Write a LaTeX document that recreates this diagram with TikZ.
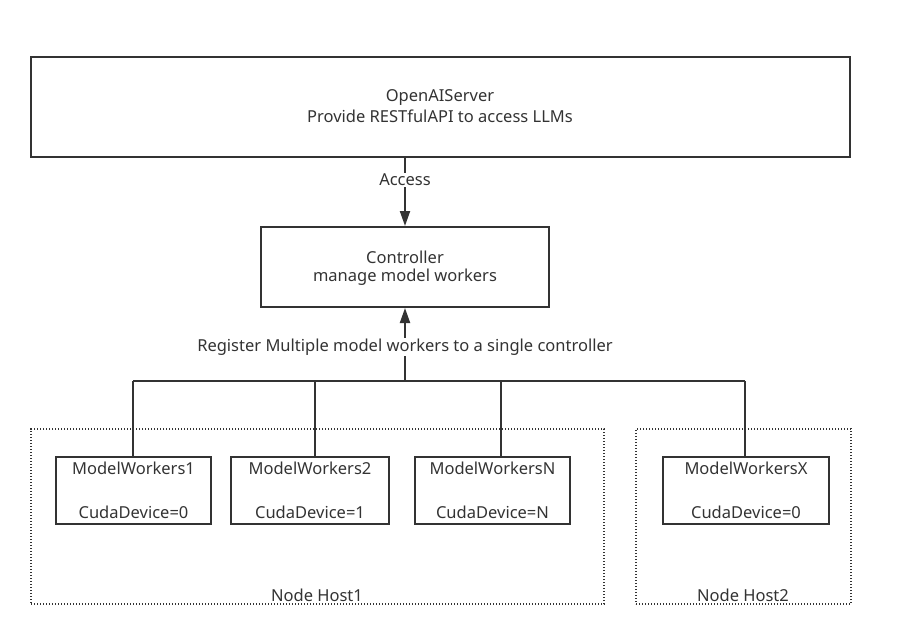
\documentclass[tikz,border=0pt]{standalone}
\usepackage{fontspec}
\setmainfont{Noto Sans}
\usetikzlibrary{arrows.meta}
\definecolor{ln}{HTML}{333333}
\begin{document}
\begin{tikzpicture}[x=1pt,y=-1pt,
  box/.style={draw=ln,line width=2pt,inner sep=0pt},
  grp/.style={draw=ln,line width=1.2pt,dash pattern=on 1.2pt off 1.8pt,inner sep=0pt},
  txt/.style={text=ln,font=\fontsize{16.5}{19}\selectfont,inner sep=1pt},
  conn/.style={draw=ln,line width=2pt},
  arr/.style={conn,-{Triangle[length=15pt,width=10pt]}}]
\useasboundingbox (0,0) rectangle (898,641);
% boxes
\node[box,minimum width=819pt,minimum height=100pt] (srv) at (440.5,107) {};
\node[txt] at (440,97) {OpenAIServer};
\node[txt] at (440,116) {Provide RESTfulAPI to access LLMs};
\node[box,minimum width=288pt,minimum height=80pt] (ctl) at (405,267) {};
\node[txt] at (405,257) {Controller};
\node[txt] at (405,277) {manage model workers};
% groups
\node[grp,minimum width=573pt,minimum height=175pt] (h1) at (317.5,516.5) {};
\node[grp,minimum width=215pt,minimum height=175pt] (h2) at (743.5,516.5) {};
% workers
\node[box,minimum width=155pt,minimum height=67pt] (w1) at (133.5,490.5) {};
\node[box,minimum width=158pt,minimum height=67pt] (w2) at (310,490.5) {};
\node[box,minimum width=155pt,minimum height=67pt] (w3) at (492.5,490.5) {};
\node[box,minimum width=166pt,minimum height=67pt] (wx) at (746,490.5) {};
\foreach \n/\a/\b in {w1/ModelWorkers1/CudaDevice=0,w2/ModelWorkers2/CudaDevice=1,w3/ModelWorkersN/CudaDevice=N,wx/ModelWorkersX/CudaDevice=0}{
  \node[txt] at ([yshift=-12pt]\n.north) {\a};
  \node[txt] at ([yshift=13pt]\n.south) {\b};
}
% connectors
\coordinate (bus) at (405,381);
\coordinate (busL) at (133,381);
\coordinate (busR) at (745,381);
\draw[arr] (srv.south -| ctl.north) -- (ctl.north);
\node[txt,fill=white] at (405,180) {Access};
\draw[arr] (bus) -- (ctl.south);
\node[txt,fill=white] at (405,347) {Register Multiple model workers to a single controller};
\draw[conn] (busL) -- (busR);
\draw[conn] (busL) -- (busL |- w1.north);
\draw[conn] (315,381) -- (315,457);
\draw[conn] (501,381) -- (501,457);
\draw[conn] (busR) -- (busR |- wx.north);
% group labels
\node[txt,fill=white,inner sep=0.5pt] at (317,595) {Node Host1};
\node[txt,fill=white,inner sep=0.5pt] at (743,595) {Node Host2};
\end{tikzpicture}
\end{document}
